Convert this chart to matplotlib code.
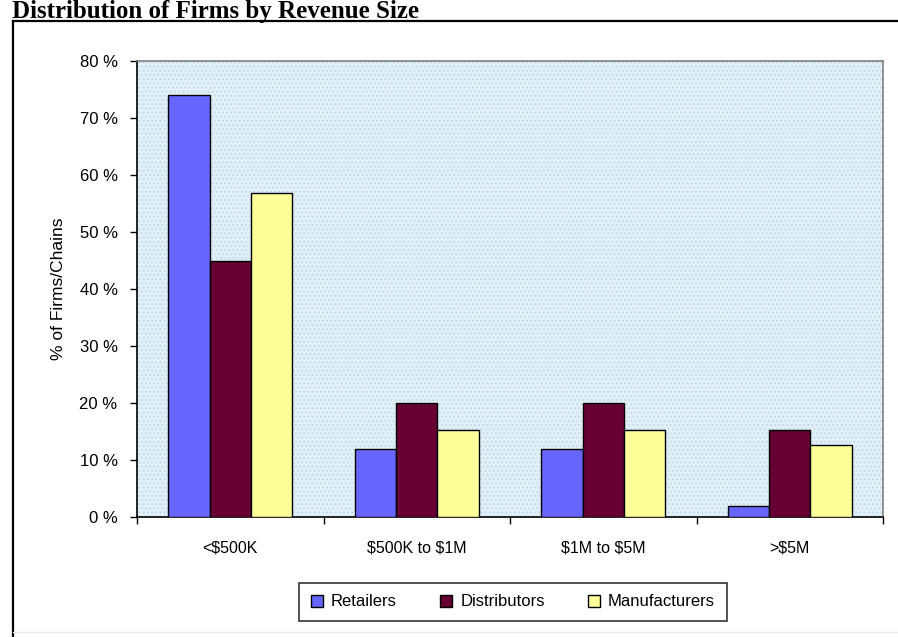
import matplotlib
matplotlib.use("Agg")
import matplotlib.pyplot as plt
import numpy as np
from matplotlib.patches import Rectangle
from matplotlib.lines import Line2D

plt.rcParams["text.parse_math"] = False
plt.rcParams["hatch.linewidth"] = 0.6

# ------------------------------------------------------------------
# Data
# ------------------------------------------------------------------
categories = ["<$500K", "$500K to $1M", "$1M to $5M", ">$5M"]
series_names = ["Retailers", "Distributors", "Manufacturers"]
retailers = [74, 12, 12, 2]
distributors = [45, 20, 20, 15.2]
manufacturers = [56.8, 15.2, 15.2, 12.7]
y_ticks = [0, 10, 20, 30, 40, 50, 60, 70, 80]

colors = ["#6666ff", "#660033", "#ffff99"]

W, H, DPI = 898, 637, 100
fig = plt.figure(figsize=(W / DPI, H / DPI), dpi=DPI)
fig.patch.set_facecolor("white")

def px(x0, y0, x1, y1):
    """pixel box (top-left origin) -> figure rect"""
    return [x0 / W, 1 - y1 / H, (x1 - x0) / W, (y1 - y0) / H]

ax = fig.add_axes(px(137, 61, 883, 517))
ax.set_facecolor("#e0eff8")

# dotted plot-area fill
bg = Rectangle((0, 0), 1, 1, transform=ax.transAxes, facecolor="none",
               edgecolor="#bcd2e0", hatch="....", linewidth=0, zorder=0)
ax.add_patch(bg)

sans = ["Liberation Sans", "DejaVu Sans"]

x = np.arange(len(categories))
bw = 1 / 4.5
for i, (vals, name) in enumerate(zip([retailers, distributors, manufacturers], series_names)):
    ax.bar(x + (i - 1) * bw, vals, width=bw, color=colors[i], edgecolor="black",
           linewidth=1.0, label=name, zorder=3)

ax.set_xlim(-0.5, len(categories) - 0.5)
ax.set_ylim(0, 80)

ax.set_yticks(y_ticks)
ax.set_yticklabels([f"{v} %" for v in y_ticks], fontfamily=sans, fontsize=12)
ax.set_xticks(x)
ax.set_xticklabels(categories, fontfamily=sans, fontsize=11.5)
ax.set_xticks(np.arange(-0.5, len(categories), 1), minor=True)
ax.tick_params(axis="x", which="major", length=0, pad=17)
ax.tick_params(axis="x", which="minor", length=5, width=1, direction="out")
ax.tick_params(axis="y", length=5, width=1, direction="out", pad=9)

for side in ["left", "bottom"]:
    ax.spines[side].set_color("black")
    ax.spines[side].set_linewidth(1.2)
for side in ["top", "right"]:
    ax.spines[side].set_color("#808080")
    ax.spines[side].set_linewidth(1.2)

ax.set_ylabel("% of Firms/Chains", fontfamily=sans, fontsize=12.5, labelpad=10)

leg = ax.legend(loc="center", bbox_to_anchor=(513 / W, 1 - 602 / H),
                bbox_transform=fig.transFigure, ncol=3, frameon=True,
                prop={"family": sans, "size": 12}, handlelength=0.7,
                handleheight=0.7, columnspacing=2.6, handletextpad=0.5,
                borderpad=0.7, borderaxespad=0, fancybox=False)
leg.get_frame().set_edgecolor("black")
leg.get_frame().set_linewidth(1.2)

# chart border (top and left dark, bottom faint)
top = 21
fig.add_artist(Line2D([13 / W, 1], [1 - top / H, 1 - top / H], color="black", lw=1.6))
fig.add_artist(Line2D([13 / W, 13 / W], [0, 1 - top / H], color="black", lw=1.6))
fig.add_artist(Line2D([13 / W, 1], [1 - 632 / H, 1 - 632 / H], color="#e8e8e8", lw=1))

fig.text(12 / W, 1 - 18 / H, "Distribution of Firms by Revenue Size",
         fontfamily=["Liberation Serif", "DejaVu Serif"], fontweight="bold",
         fontsize=18, va="baseline", ha="left")

fig.savefig("out.png", dpi=DPI)
